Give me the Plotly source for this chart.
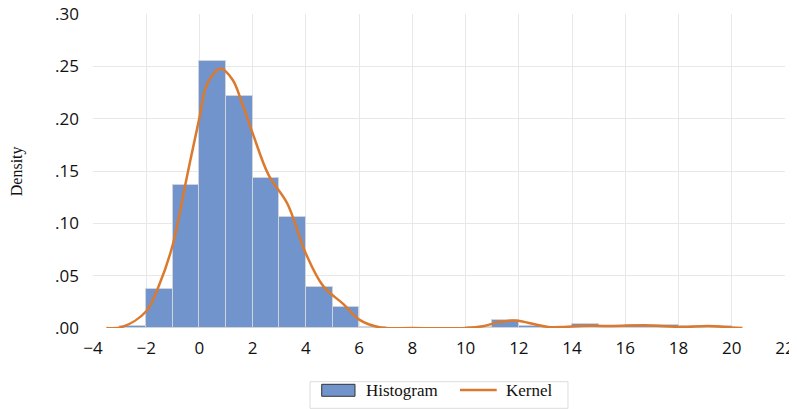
import plotly.graph_objects as go

# Histogram bins (left edges, width 1) and densities
bin_left = [-3, -2, -1, 0, 1, 2, 3, 4, 5, 6, 10, 11, 12, 14, 15, 16, 17, 18, 19]
density = [0.002, 0.037, 0.137, 0.255, 0.222, 0.143, 0.106, 0.039, 0.020, 0.001,
           0.001, 0.008, 0.002, 0.004, 0.002, 0.003, 0.003, 0.002, 0.002]

# Kernel density curve
kx = [-3.5, -2.9, -2.0, -1.5, -1.0, -0.5, 0.0, 0.3, 0.8, 1.25, 1.6, 2.0, 2.6, 3.3,
      4.0, 4.65, 5.4, 6.0, 6.8, 8.0, 10.0, 10.7, 11.3, 11.95, 12.6, 13.1, 13.7,
      14.3, 15.3, 16.9, 18.1, 19.1, 20.0, 20.4]
ky = [0.0, 0.001, 0.016, 0.042, 0.080, 0.141, 0.201, 0.234, 0.248, 0.237, 0.215,
      0.186, 0.146, 0.119, 0.071, 0.040, 0.023, 0.008, 0.0005, 0.0, 0.0, 0.002,
      0.006, 0.007, 0.0035, 0.001, 0.001, 0.002, 0.002, 0.0025, 0.001, 0.002,
      0.0005, 0.0]

y_ticks = [0, 0.05, 0.10, 0.15, 0.20, 0.25, 0.30]
y_ticktext = [".00", ".05", ".10", ".15", ".20", ".25", ".30"]
x_ticks = list(range(-4, 23, 2))

BAR_COLOR = "#7194CC"
LINE_COLOR = "#DB7A2E"
SERIF = "Liberation Serif"

fig = go.Figure()
fig.add_trace(go.Bar(
    x=[b + 0.5 for b in bin_left], y=density, width=1,
    name="Histogram", showlegend=False,
    marker=dict(color=BAR_COLOR, line=dict(color="#D0D4DA", width=1)),
))
fig.add_trace(go.Scatter(
    x=kx, y=ky, mode="lines", name="Kernel", line_shape="spline", showlegend=False,
    line=dict(color=LINE_COLOR, width=2.5),
))

# custom legend (paper coordinates)
shapes = [
    dict(type="rect", xref="paper", yref="paper", x0=0.3136, x1=0.6864, y0=-0.2557, y1=-0.171,
         line=dict(color="#DCDCDC", width=1), fillcolor="white"),
    dict(type="rect", xref="paper", yref="paper", x0=0.3305, x1=0.3786, y0=-0.2175, y1=-0.1793,
         line=dict(color="#333333", width=1), fillcolor=BAR_COLOR),
    dict(type="line", xref="paper", yref="paper", x0=0.5303, x1=0.5834, y0=-0.1975, y1=-0.1975,
         line=dict(color=LINE_COLOR, width=2.5)),
]
annotations = [
    dict(text="Density", xref="paper", yref="paper", x=-0.1095, y=0.5, textangle=-90,
         showarrow=False, xanchor="center", yanchor="middle",
         font=dict(family=SERIF, size=16, color="#111")),
    dict(text="Histogram", xref="paper", yref="paper", x=0.391, y=-0.1975, showarrow=False,
         xanchor="left", yanchor="middle", font=dict(family=SERIF, size=17, color="#111")),
    dict(text="Kernel", xref="paper", yref="paper", x=0.5935, y=-0.1975, showarrow=False,
         xanchor="left", yanchor="middle", font=dict(family=SERIF, size=17, color="#111")),
]

fig.update_layout(
    width=789, height=401,
    margin=dict(l=85, r=12, t=6, b=81, autoexpand=False),
    plot_bgcolor="white", paper_bgcolor="white",
    bargap=0,
    showlegend=False,
    shapes=shapes,
    annotations=annotations,
    xaxis=dict(range=[-4, 22], tickvals=x_ticks, showgrid=True, gridcolor="#E8E8E8",
               zeroline=False, showline=False, ticks="", automargin=False,
               ticklabelstandoff=8, ticklabeloverflow="allow",
               tickfont=dict(family="Open Sans", size=17, color="#111")),
    yaxis=dict(range=[0, 0.30], tickvals=y_ticks, ticktext=y_ticktext,
               showgrid=True, gridcolor="#E8E8E8", zeroline=False, showline=False,
               ticks="", automargin=False, ticklabelstandoff=13, ticklabeloverflow="allow",
               tickfont=dict(family="Open Sans", size=17, color="#111")),
)

fig.write_html("out.html")
